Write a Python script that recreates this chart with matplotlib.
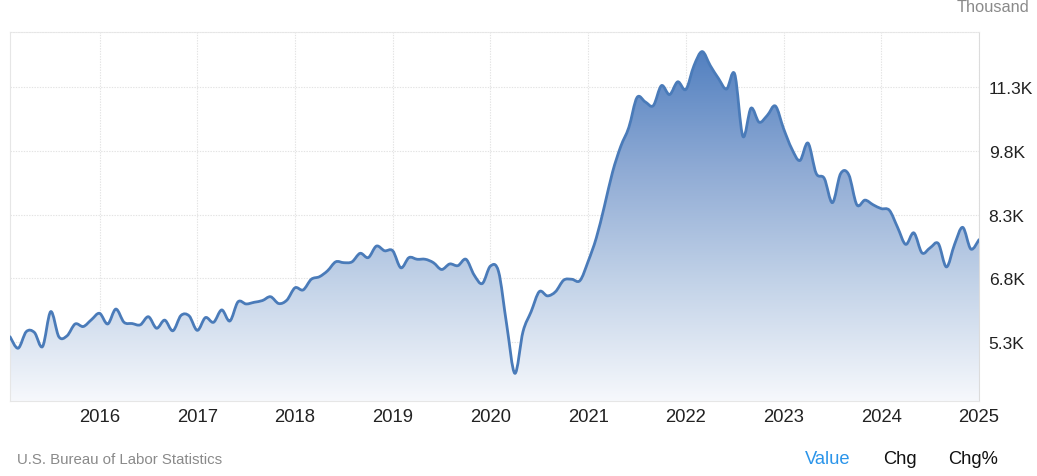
import numpy as np
import matplotlib
matplotlib.use("Agg")
import matplotlib.pyplot as plt
from matplotlib.path import Path
from matplotlib.patches import PathPatch
from matplotlib.colors import LinearSegmentedColormap

# ---- data (job openings, thousands -> shown in K) ----
start_year = 2015
values = [
    5.43, 5.16, 5.55, 5.53, 5.20, 6.02, 5.43, 5.45, 5.73, 5.67, 5.83, 5.98,   # 2015
    5.73, 6.08, 5.77, 5.74, 5.71, 5.90, 5.63, 5.82, 5.57, 5.93, 5.92, 5.58,   # 2016
    5.88, 5.77, 6.06, 5.80, 6.25, 6.20, 6.24, 6.28, 6.37, 6.21, 6.29, 6.58,   # 2017
    6.53, 6.78, 6.84, 6.98, 7.19, 7.17, 7.19, 7.39, 7.29, 7.56, 7.45, 7.45,   # 2018
    7.05, 7.29, 7.25, 7.25, 7.17, 7.01, 7.14, 7.10, 7.25, 6.88, 6.68, 7.09,   # 2019
    6.96, 5.71, 4.57, 5.55, 6.02, 6.49, 6.39, 6.49, 6.76, 6.78, 6.75, 7.20,   # 2020
    7.75, 8.50, 9.30, 9.90, 10.35, 11.05, 10.95, 10.86, 11.33, 11.12, 11.42, 11.24,  # 2021
    11.80, 12.13, 11.80, 11.50, 11.25, 11.60, 10.14, 10.80, 10.47, 10.63, 10.85, 10.32,  # 2022
    9.85, 9.57, 9.98, 9.27, 9.15, 8.58, 9.26, 9.24, 8.53, 8.64, 8.53, 8.44,   # 2023
    8.40, 8.00, 7.60, 7.87, 7.40, 7.52, 7.62, 7.07, 7.60, 8.00, 7.49, 7.71,   # 2024
]
year_ticks = list(range(2016, 2026))
y_ticks = [5.3, 6.8, 8.3, 9.8, 11.3]
y_labels = ["5.3K", "6.8K", "8.3K", "9.8K", "11.3K"]

# x positions: month-end, in decimal years
xs = np.array([start_year + (i + 1) / 12 for i in range(len(values))])
ys = np.array(values)

plt.rcParams['font.family'] = ['Liberation Sans', 'DejaVu Sans']

fig = plt.figure(figsize=(10.37, 4.77), dpi=100)
W, H = 1037, 477
ax = fig.add_axes([10 / W, 1 - 402 / H, (979 - 10) / W, (402 - 33) / H])

xmin, xmax = xs[0], 2025.0
ymin, ymax = 3.92, 12.59
ax.set_xlim(xmin, xmax)
ax.set_ylim(ymin, ymax)

# smooth (Catmull-Rom -> cubic Bezier) path through the data points
def bezier_vertices(x, y):
    P = np.column_stack([x, y])
    n = len(P)
    verts = [P[0]]
    codes = [Path.MOVETO]
    for i in range(n - 1):
        p0 = P[i - 1] if i > 0 else P[i]
        p1 = P[i]
        p2 = P[i + 1]
        p3 = P[i + 2] if i + 2 < n else P[i + 1]
        c1 = p1 + (p2 - p0) / 6.0
        c2 = p2 - (p3 - p1) / 6.0
        verts += [c1, c2, p2]
        codes += [Path.CURVE4] * 3
    return verts, codes

verts, codes = bezier_vertices(xs, ys)

# fill area path
fverts = list(verts) + [(xs[-1], ymin), (xs[0], ymin), verts[0]]
fcodes = list(codes) + [Path.LINETO, Path.LINETO, Path.CLOSEPOLY]
fill_patch = PathPatch(Path(fverts, fcodes), facecolor='none', edgecolor='none',
                       transform=ax.transData)
ax.add_patch(fill_patch)

cmap = LinearSegmentedColormap.from_list(
    "grad", ["#f6f8fc", "#c3d3e8", "#8eaad4", "#5280c0"])
grad = np.linspace(0, 1, 256).reshape(-1, 1)
im = ax.imshow(grad, cmap=cmap, aspect='auto', origin='lower',
               extent=[xmin, xmax, ymin, 12.15], zorder=1, interpolation='bilinear')
im.set_clip_path(fill_patch)

line = PathPatch(Path(verts, codes), facecolor='none', edgecolor='#4a7bb9',
                 linewidth=2.0, transform=ax.transData, zorder=3,
                 capstyle='round', joinstyle='round')
ax.add_patch(line)

# grid
ax.set_xticks(year_ticks)
ax.set_xticklabels([str(y) for y in year_ticks])
ax.set_yticks(y_ticks)
ax.set_yticklabels(y_labels)
ax.grid(True, color='#e3e3e3', linestyle=(0, (1.2, 1.2)), linewidth=0.8, zorder=0)
ax.set_axisbelow(True)

ax.yaxis.tick_right()
ax.tick_params(axis='both', length=0, colors='#222222')
ax.tick_params(axis='y', pad=7, labelsize=12.6)
ax.tick_params(axis='x', pad=5, labelsize=13.3)
for lab in ax.get_xticklabels():
    lab.set_ha('center')

for side, sp in ax.spines.items():
    sp.set_color('#e6e6e6')
    sp.set_linewidth(0.8)
ax.spines['top'].set_linestyle((0, (1.2, 1.2)))
ax.spines['right'].set_color('#dcdcdc')

# texts
fig.text(1029 / W, 1 - 8 / H, "Thousand", ha='right', va='center',
         fontsize=11.8, color='#8a8a8a')
fig.text(17 / W, 1 - 460 / H, "U.S. Bureau of Labor Statistics", ha='left',
         va='center', fontsize=10.8, color='#8a8a8a')
fig.text(828 / W, 1 - 460 / H, "Value", ha='center', va='center',
         fontsize=13.2, color='#2b95ea')
fig.text(900 / W, 1 - 460 / H, "Chg", ha='center', va='center',
         fontsize=13.2, color='#111111')
fig.text(973 / W, 1 - 460 / H, "Chg%", ha='center', va='center',
         fontsize=13.2, color='#111111')

fig.savefig("out.png", dpi=100)
